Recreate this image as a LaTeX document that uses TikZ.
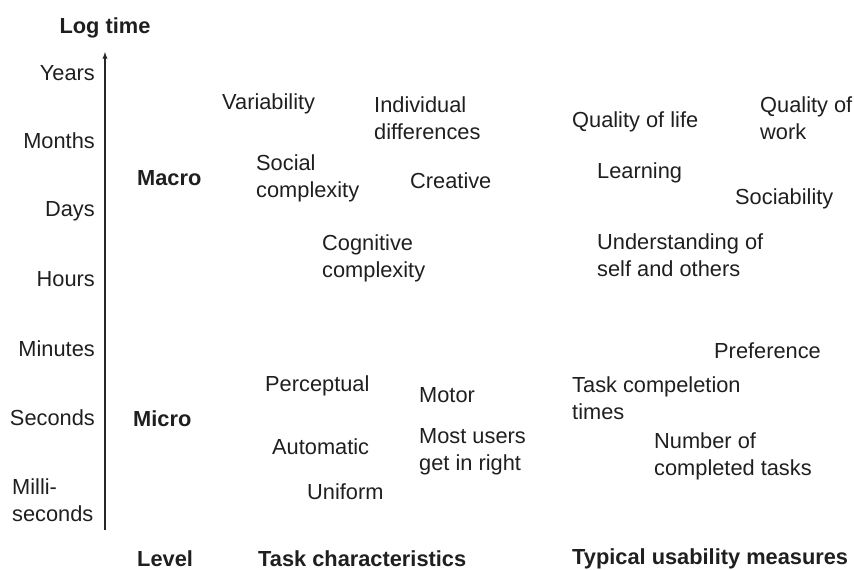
\documentclass[tikz,border=0pt]{standalone}
\usepackage{fontspec}
\setmainfont{Liberation Sans}
\usepackage{tikz}
\usetikzlibrary{calc}

\begin{document}
\begin{tikzpicture}[x=1pt,y=-1pt,
        lbl/.style={anchor=west,inner sep=0pt,align=left,yshift=-1.5pt,text=black!88,font=\fontsize{21.8}{27}\selectfont},
        tick/.style={lbl,anchor=east},
        head/.style={lbl,font=\fontsize{21.8}{27}\selectfont\bfseries}]
        \useasboundingbox (0,0) rectangle (854,570);
        \coordinate (bot) at (105,530);
        \coordinate (top) at (105,52);
        \draw[-latex,line width=1.3pt,black!85](bot)--(top);
        \node[head,anchor=center] (logtime) at (105,26) {Log time};
        % time scale
        \node[tick] (years) at (95,72) {Years};
        \node[tick] (months) at (95,139) {Months};
        \node[tick] (days) at (95,210) {Days};
        \node[tick] (hours) at (95,278) {Hours};
        \node[tick] (minutes) at (95,347) {Minutes};
        \node[tick] (seconds) at (95,416) {Seconds};
        \node[lbl] (milli) at (12,499) {Milli-\\seconds};
        % levels
        \node[head] (macro) at (137,177) {Macro};
        \node[head] (micro) at (133,417) {Micro};
        % task characteristics
        \node[lbl] (var) at (222,102) {Variability};
        \node[lbl] (indiv) at (374,117) {Individual\\differences};
        \node[lbl] (social) at (256,177) {Social\\complexity};
        \node[lbl] (creative) at (410,179) {Creative};
        \node[lbl] (cogn) at (322,257) {Cognitive\\complexity};
        \node[lbl] (perc) at (265,384) {Perceptual};
        \node[lbl] (motor) at (419,394) {Motor};
        \node[lbl] (auto) at (272,445) {Automatic};
        \node[lbl] (most) at (419,450) {Most users\\get in right};
        \node[lbl] (unif) at (307,490) {Uniform};
        % usability measures
        \node[lbl] (qlife) at (572,120) {Quality of life};
        \node[lbl] (qwork) at (760,117) {Quality of\\work};
        \node[lbl] (learn) at (597,171) {Learning};
        \node[lbl] (sociab) at (735,197) {Sociability};
        \node[lbl] (underst) at (597,254) {Understanding of\\self and others};
        \node[lbl] (pref) at (714,349) {Preference};
        \node[lbl] (times) at (572,397) {Task compeletion\\times};
        \node[lbl] (number) at (654,455) {Number of\\completed tasks};
        % column heads
        \node[head] (level) at (137,557) {Level};
        \node[head] (task) at (258,557) {Task characteristics};
        \node[head] (meas) at (572,557) {Typical usability measures};
    \end{tikzpicture}
\end{document}
